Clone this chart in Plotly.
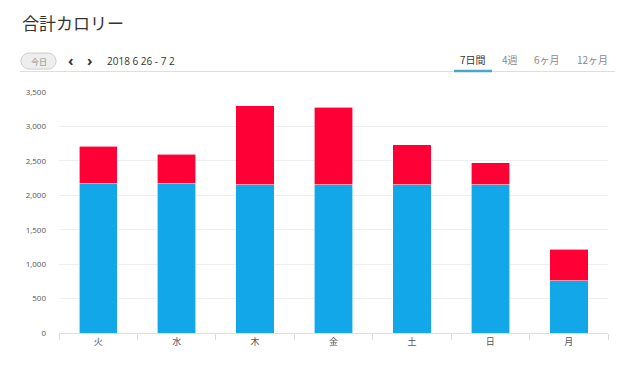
import plotly.graph_objects as go

days = ["火", "水", "木", "金", "土", "日", "月"]
base_kcal = [2165, 2165, 2150, 2150, 2155, 2155, 757]
total_kcal = [2714, 2595, 3298, 3278, 2731, 2472, 1217]
extra_kcal = [t - b for t, b in zip(total_kcal, base_kcal)]
y_ticks = [0, 500, 1000, 1500, 2000, 2500, 3000, 3500]
tabs = ["7日間", "4週", "6ヶ月", "12ヶ月"]

OFF = 8  # page body margin
W, H = 640 - OFF, 373 - OFF
# plot area in screen pixels
L, R, T, B = 59, 608, 92, 333.5
FONT = "Open Sans, Noto Sans CJK JP, sans-serif"


def px(x):
    return (x - L) / (R - L)


def py(y):
    return (B - y) / (B - T)


fig = go.Figure()
fig.add_trace(go.Bar(x=days, y=base_kcal, marker=dict(color="#11a7e9", line=dict(color="#ffffff", width=0.6)), hoverinfo="y"))
fig.add_trace(go.Bar(x=days, y=extra_kcal, marker=dict(color="#ff0036", line=dict(color="#ffffff", width=0.6)), hoverinfo="y"))

ann = []
ann.append(dict(text="合計カロリー", x=px(20), y=py(22), xanchor="left", yanchor="middle",
                font=dict(size=17, color="#333333", family="Noto Sans CJK JP")))
ann.append(dict(text="今日", x=px(38.5), y=py(61), xanchor="center", yanchor="middle",
                font=dict(size=8, color="#888888", family="Noto Sans CJK JP")))
ann.append(dict(text="<b>‹</b>", x=px(71), y=py(60), xanchor="center", yanchor="middle",
                font=dict(size=15, color="#333333", family=FONT)))
ann.append(dict(text="<b>›</b>", x=px(89.5), y=py(60), xanchor="center", yanchor="middle",
                font=dict(size=15, color="#333333", family=FONT)))
ann.append(dict(text="2018 6 26 - 7 2", x=px(105), y=py(61), xanchor="left", yanchor="middle",
                font=dict(size=10, color="#333333", family=FONT)))
tab_x = [473, 510, 547, 592]
tab_col = ["#333333", "#888888", "#888888", "#888888"]
for t, xx, c in zip(tabs, tab_x, tab_col):
    ann.append(dict(text=t, x=px(xx), y=py(59.5), xanchor="center", yanchor="middle",
                    font=dict(size=10, color=c, family="Noto Sans CJK JP")))
for a in ann:
    a.update(xref="paper", yref="paper", showarrow=False)

# rounded pill path
x0, x1, y0, y1 = 21, 56, 53, 69
r = (y1 - y0) / 2
k = 0.55 * r


def P(x, y):
    return f"{px(x):.5f},{py(y):.5f}"


pill = (f"M{P(x0 + r, y0)} L{P(x1 - r, y0)} "
        f"C{P(x1 - r + k, y0)} {P(x1, y0 + r - k)} {P(x1, y0 + r)} "
        f"C{P(x1, y0 + r + k)} {P(x1 - r + k, y1)} {P(x1 - r, y1)} "
        f"L{P(x0 + r, y1)} "
        f"C{P(x0 + r - k, y1)} {P(x0, y0 + r + k)} {P(x0, y0 + r)} "
        f"C{P(x0, y0 + r - k)} {P(x0 + r - k, y0)} {P(x0 + r, y0)} Z")

shapes = [
    dict(type="path", path=pill, xref="paper", yref="paper", fillcolor="#eeeeee",
         line=dict(color="#cccccc", width=1)),
    dict(type="line", x0=px(20), x1=px(615), y0=py(71.5), y1=py(71.5), xref="paper", yref="paper",
         line=dict(color="#dddddd", width=1)),
    dict(type="line", x0=px(454), x1=px(492), y0=py(71), y1=py(71), xref="paper", yref="paper",
         line=dict(color="#4aa6c4", width=2.5)),
]

fig.update_layout(
    width=W, height=H, barmode="stack", bargap=0.51, showlegend=False,
    margin=dict(l=L - OFF, r=W - (R - OFF), t=T - OFF, b=H - (B - OFF), autoexpand=False),
    paper_bgcolor="white", plot_bgcolor="white",
    font=dict(family=FONT, color="#555555"),
    annotations=ann, shapes=shapes,
    xaxis=dict(showline=True, linecolor="#dddddd", linewidth=1, ticks="outside", tickson="boundaries",
               ticklen=6, tickcolor="#dddddd", tickfont=dict(size=9, color="#555555", family="Noto Sans CJK JP"),
               showgrid=False, fixedrange=True),
    yaxis=dict(range=[0, 3500], tickvals=y_ticks, tickformat=",d", showgrid=True, gridcolor="#eeeeee",
               gridwidth=1, zeroline=False, showline=False, ticks="", ticklabelstandoff=12,
               tickfont=dict(size=8, color="#555555"), fixedrange=True),
)

fig.write_html("out.html")
